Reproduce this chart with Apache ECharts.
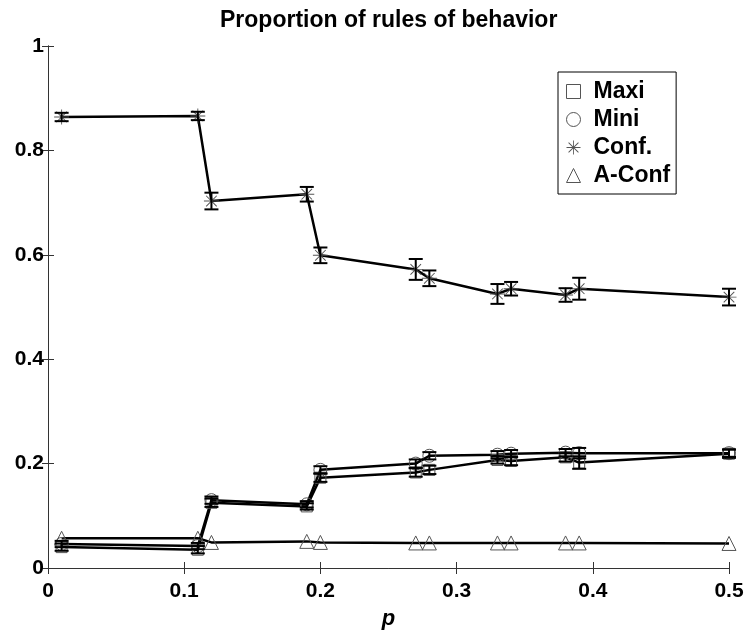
<!DOCTYPE html>
<html><head><meta charset="utf-8">
<script src="https://cdn.jsdelivr.net/npm/echarts@6/dist/echarts.min.js"></script>
<style>html,body{margin:0;padding:0;background:#fff}#c{width:747px;height:635px}</style>
</head><body><div id="c"></div>
<script>
const titleText = 'Proportion of rules of behavior';
const xName = 'p';
const xVals = [0.01, 0.11, 0.12, 0.19, 0.2, 0.27, 0.28, 0.33, 0.34, 0.38, 0.39, 0.5];
const maxi    = [0.040, 0.035, 0.125, 0.118, 0.173, 0.183, 0.188, 0.207, 0.205, 0.212, 0.202, 0.219];
const maxiErr = [0.007, 0.007, 0.008, 0.006, 0.008, 0.008, 0.008, 0.007, 0.008, 0.008, 0.012, 0.008];
const mini    = [0.046, 0.042, 0.130, 0.122, 0.188, 0.200, 0.215, 0.217, 0.219, 0.221, 0.220, 0.220];
const miniErr = [0.006, 0.006, 0.007, 0.006, 0.007, 0.008, 0.007, 0.007, 0.007, 0.007, 0.010, 0.007];
const conf    = [0.864, 0.866, 0.703, 0.716, 0.599, 0.572, 0.555, 0.525, 0.535, 0.523, 0.535, 0.519];
const confErr = [0.008, 0.008, 0.016, 0.014, 0.015, 0.020, 0.015, 0.019, 0.013, 0.013, 0.021, 0.016];
const aconf   = [0.057, 0.057, 0.049, 0.051, 0.049, 0.048, 0.048, 0.048, 0.048, 0.048, 0.048, 0.047];
const seriesNames = ['Maxi', 'Mini', 'Conf.', 'A-Conf'];

const STAR = 'path://M0 9.4 L20 9.4 L20 10.6 L0 10.6 Z M9.4 0 L10.6 0 L10.6 20 L9.4 20 Z M2.5 3.4 L3.4 2.5 L17.5 16.6 L16.6 17.5 Z M16.6 2.5 L17.5 3.4 L3.4 17.5 L2.5 16.6 Z';
const FONT = '"Liberation Sans", Arial, Helvetica, sans-serif';
const mk = '#555';

function pts(ys){ return xVals.map((x,i)=>[x, ys[i]]); }
function errData(ys, es){ return xVals.map((x,i)=>[x, ys[i], es[i]]); }
function errSeries(ys, es){
  return {
    type: 'custom', data: errData(ys, es), z: 5, silent: true,
    encode: {x: 0, y: 1},
    renderItem: function(params, api){
      const x = api.value(0), y = api.value(1), e = api.value(2);
      const t = api.coord([x, y + e]), b = api.coord([x, y - e]);
      const w = 7;
      const st = {stroke: '#000', lineWidth: 2};
      return {type: 'group', children: [
        {type: 'line', shape: {x1: t[0], y1: t[1], x2: b[0], y2: b[1]}, style: st},
        {type: 'line', shape: {x1: t[0]-w, y1: t[1], x2: t[0]+w, y2: t[1]}, style: st},
        {type: 'line', shape: {x1: b[0]-w, y1: b[1], x2: b[0]+w, y2: b[1]}, style: st}
      ]};
    }
  };
}
function lineSeries(name, ys, symbol, size, lw, filled){
  return {
    name: name, type: 'line', data: pts(ys), symbol: symbol, symbolSize: size,
    showAllSymbol: true, z: 4,
    lineStyle: {color: '#000', width: lw},
    itemStyle: filled ? {color: mk, borderWidth: 0} : {color: 'rgba(0,0,0,0)', borderColor: mk, borderWidth: 1},
    emphasis: {disabled: true}
  };
}

const chart = echarts.init(document.getElementById('c'));
const axisLineStyle = {lineStyle: {color: '#333', width: 1}};
chart.setOption({
  animation: false,
  title: {text: titleText, left: 215, top: 4,
    textStyle: {fontFamily: FONT, fontSize: 23, fontWeight: 'bold', color: '#000'}},
  grid: {left: 48, right: 18, top: 46, bottom: 66},
  legend: {
    orient: 'vertical', left: 558, top: 72,
    backgroundColor: '#fff', borderColor: '#000', borderWidth: 1,
    padding: [8, 6, 7, 8], itemGap: 5, itemWidth: 14, itemHeight: 14,
    textStyle: {fontFamily: FONT, fontSize: 23, fontWeight: 'bold', color: '#000', lineHeight: 23, padding: [0, 0, 0, 8]},
    data: [
      {name: 'Maxi', icon: 'rect', itemStyle: {color: 'rgba(0,0,0,0)', borderColor: mk, borderWidth: 1}},
      {name: 'Mini', icon: 'circle', itemStyle: {color: 'rgba(0,0,0,0)', borderColor: mk, borderWidth: 1}},
      {name: 'Conf.', icon: STAR, itemStyle: {color: mk, borderWidth: 0}},
      {name: 'A-Conf', icon: 'triangle', itemStyle: {color: 'rgba(0,0,0,0)', borderColor: mk, borderWidth: 1}}
    ],
    selectedMode: false
  },
  xAxis: [{
    type: 'value', min: 0, max: 0.5, interval: 0.1,
    name: xName, nameLocation: 'middle', nameGap: 40,
    nameTextStyle: {fontFamily: FONT, fontSize: 22, fontWeight: 'bold', fontStyle: 'italic', color: '#000'},
    axisLine: axisLineStyle, axisTick: {inside: true, length: 6, lineStyle: {color: '#333'}},
    splitLine: {show: false},
    axisLabel: {fontFamily: FONT, fontSize: 21, fontWeight: 'bold', color: '#000', margin: 13,
      formatter: v => (Math.round(v*10)/10).toString()}
  }, {
    type: 'value', position: 'top', min: 0, max: 0.5, interval: 0.1,
    axisLine: axisLineStyle, axisTick: {inside: true, length: 6, lineStyle: {color: '#333'}},
    axisLabel: {show: false}, splitLine: {show: false}
  }],
  yAxis: [{
    type: 'value', min: 0, max: 1, interval: 0.2,
    axisLine: {show: true, lineStyle: {color: '#333', width: 1}},
    axisTick: {show: true, inside: true, length: 6, lineStyle: {color: '#333'}},
    splitLine: {show: false},
    axisLabel: {fontFamily: FONT, fontSize: 21, fontWeight: 'bold', color: '#000', margin: 4,
      formatter: v => (Math.round(v*10)/10).toString()}
  }, {
    type: 'value', position: 'right', min: 0, max: 1, interval: 0.2,
    axisLine: {show: true, lineStyle: {color: '#333', width: 1}},
    axisTick: {show: true, inside: true, length: 6, lineStyle: {color: '#333'}},
    axisLabel: {show: false}, splitLine: {show: false}
  }],
  series: [
    lineSeries(seriesNames[0], maxi, 'rect', 11, 2.5, false),
    lineSeries(seriesNames[1], mini, 'circle', 13, 2.5, false),
    lineSeries(seriesNames[2], conf, STAR, 15, 2.5, true),
    lineSeries(seriesNames[3], aconf, 'triangle', 14, 2.5, false),
    errSeries(maxi, maxiErr),
    errSeries(mini, miniErr),
    errSeries(conf, confErr)
  ]
});
</script></body></html>
